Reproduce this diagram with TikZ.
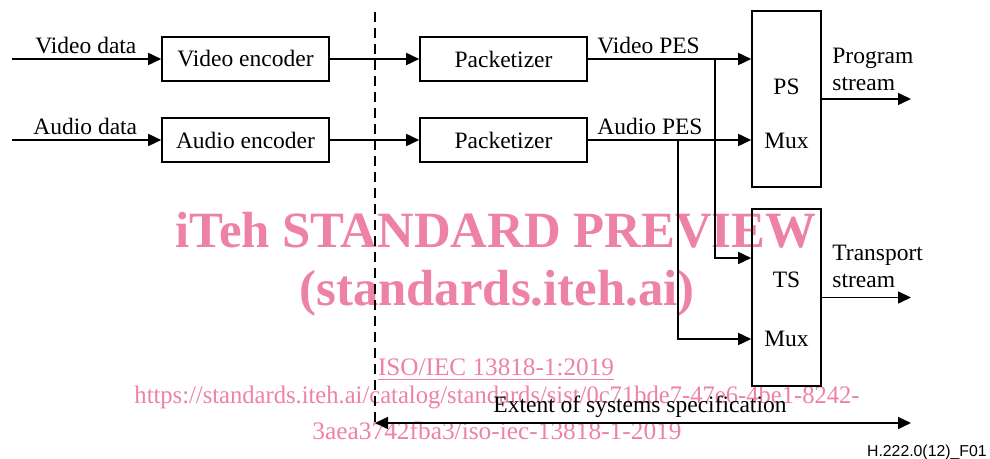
\documentclass[tikz,border=0pt]{standalone}
\usepackage{graphicx}
\usepackage{fontspec}
\setmainfont{Liberation Serif}
\newfontfamily\figfont{Liberation Sans}
\usetikzlibrary{positioning, arrows.meta}
\definecolor{wmpink}{RGB}{238,130,165}
\tikzset{
  blk/.style={draw, line width=0.8pt, minimum width=83.5pt, minimum height=22pt, inner sep=0pt},
  mux/.style={draw, line width=0.8pt, minimum width=34.5pt, minimum height=88pt, inner sep=0pt},
  sig/.style={-{Triangle[length=6.5pt,width=6pt]}, line width=0.8pt},
  lbl/.style={inner sep=0pt},
  wm/.style={text=wmpink, inner sep=0pt, anchor=base}
}

\begin{document}
\begin{tikzpicture}[x=0.5pt, y=-0.5pt, font=\fontsize{11.75}{13.25}\selectfont]
\useasboundingbox (0,0) rectangle (990,459);

% watermark
\node[wm, font=\fontsize{25.4}{28}\selectfont\bfseries] (wmtitle) at (496,248) {iTeh STANDARD PREVIEW};
\node[wm, font=\fontsize{25.4}{28}\selectfont\bfseries] (wmsite) at (497,306) {(standards.iteh.ai)};
\node[wm, font=\fontsize{12.6}{14}\selectfont] (wmiso) at (496,376) {\underline{ISO/IEC 13818-1:2019}};
\node[wm, font=\fontsize{12.6}{14}\selectfont] (wmurl) at (497,404) {\resizebox{362.5pt}{\height}{https://standards.iteh.ai/catalog/standards/sist/0c71bde7-47e6-4be1-8242-}};
\node[wm, font=\fontsize{12.6}{14}\selectfont] (wmid) at (497,439) {\resizebox{184.5pt}{\height}{3aea3742fba3/iso-iec-13818-1-2019}};

% blocks
\node[blk] (venc) at (245.5,59) {Video encoder};
\node[blk] (aenc) at (245.5,140) {Audio encoder};
\node[blk] (vpkt) at (503.5,59) {Packetizer};
\node[blk] (apkt) at (503.5,140) {Packetizer};
\node[mux] (ps) at (786.5,99) {};
\node[mux, minimum height=88.5pt] (ts) at (786.5,297.5) {};
\node (psname) at (786.5,87) {PS};
\node (psmx) at (786.5,141) {Mux};
\node (tsname) at (786.5,280) {TS};
\node (tsmx) at (786.5,339) {Mux};

% free ends and branch points
\coordinate (vin) at (12,59);
\coordinate (ain) at (12,140);
\coordinate (vj) at (715,59);
\coordinate (aj) at (678,140);
\coordinate (psout) at (911,99);
\coordinate (tsout) at (911,297.5);
\coordinate (cut) at (375,12);
\coordinate (extl) at (375,423);
\coordinate (extr) at (911,423);

\draw[sig] (vin) -- (venc);
\draw[sig] (ain) -- (aenc);
\draw[sig] (venc) -- (vpkt);
\draw[sig] (aenc) -- (apkt);
\draw[sig] (vpkt) -- (vpkt -| ps.west);
\draw[sig] (apkt) -- (apkt -| ps.west);
\draw[sig] (vj) |- ([yshift=19.75pt]ts.west);
\draw[sig] (aj) |- ([yshift=-20.75pt]ts.west);
\draw[sig] (ps) -- (psout);
\draw[sig] (ts) -- (tsout);
\draw[line width=0.8pt, dash pattern=on 5pt off 3pt] (cut) -- (extl);
\draw[{Triangle[length=6.5pt,width=6pt]}-{Triangle[length=6.5pt,width=6pt]}, line width=0.8pt] (extl) -- (extr);

% labels
\node[lbl, anchor=base west] (vdata) at (35,54) {Video data};
\node[lbl, anchor=base west] (adata) at (33,135) {Audio data};
\node[lbl, anchor=base west] (vpes) at (597,54) {Video PES};
\node[lbl, anchor=base west] (apes) at (597,135) {Audio PES};
\node[lbl, anchor=south west, align=left] (prog) at (832,91) {Program\\stream};
\node[lbl, anchor=south west, align=left] (trans) at (832,288) {Transport\\stream};
\node[lbl, anchor=base] (extent) at (640,413) {Extent of systems specification};
\node[lbl, anchor=base east, font={\fontsize{7.9}{9}\selectfont\figfont}] (fignum) at (987,456) {H.222.0(12)\_F01};
\end{tikzpicture}
\end{document}
